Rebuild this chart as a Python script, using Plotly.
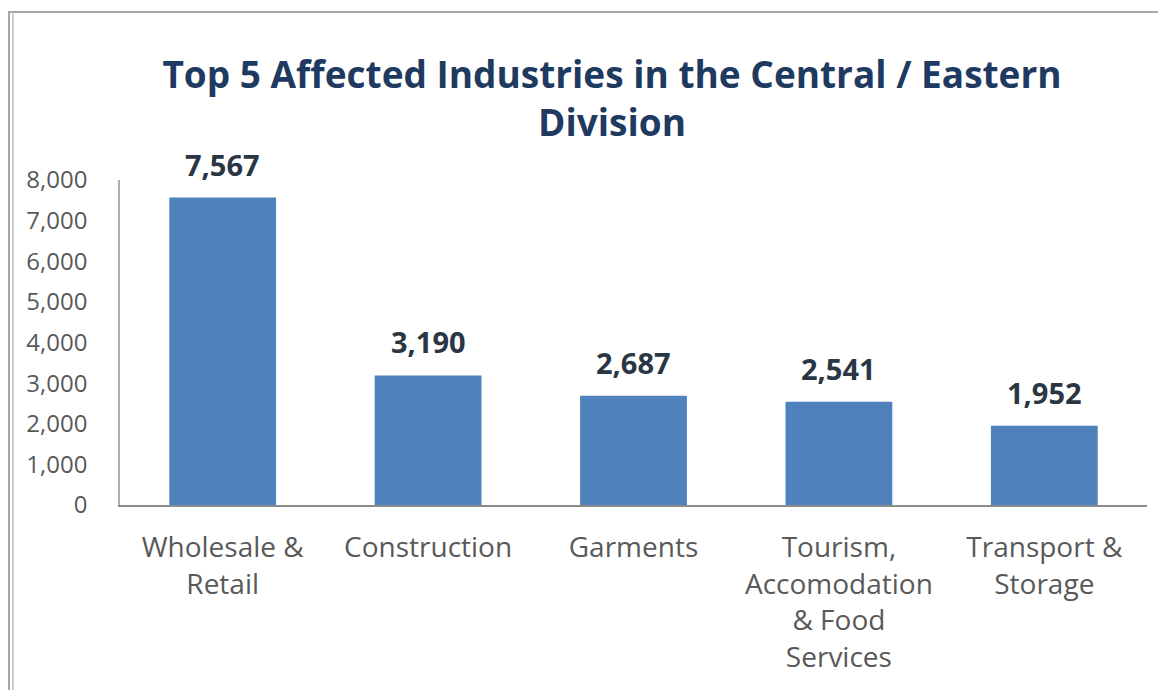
import plotly.graph_objects as go

# Top 5 affected industries, Central / Eastern Division
industries = [
    "Wholesale &<br>Retail",
    "Construction",
    "Garments",
    "Tourism,<br>Accomodation<br>& Food<br>Services",
    "Transport &<br>Storage",
]
affected = [7567, 3190, 2687, 2541, 1952]

y_ticks = [0, 1000, 2000, 3000, 4000, 5000, 6000, 7000, 8000]
y_tick_labels = ["0", "1,000", "2,000", "3,000", "4,000", "5,000", "6,000", "7,000", "8,000"]

bar_color = "#4F81BD"
gray_text = "#595959"
axis_gray = "#8c8c8c"
font_family = "Open Sans, Lato, sans-serif"

# page / plot geometry (px); the page body adds an 8px margin all round
off = 8
W, H = 1166 - 2 * off, 698 - 2 * off
ml, mt = 120 - off, 180 - off
pw, ph = 1027, 325
mr = W - ml - pw
mb = H - mt - ph


def px_x(x):
    return (x - off - ml) / pw


def px_y(y):
    return (H - mb - (y - off)) / ph


fig = go.Figure()

fig.add_trace(
    go.Bar(
        x=industries,
        y=affected,
        marker=dict(color=bar_color, line=dict(width=0)),
        hoverinfo="skip",
        showlegend=False,
    )
)

# value labels above bars
for name, val in zip(industries, affected):
    fig.add_annotation(
        x=name,
        y=val,
        text=f"{val:,}",
        showarrow=False,
        yanchor="bottom",
        yshift=12,
        font=dict(family=font_family, size=29, color="#2a3644", weight="bold"),
    )

# outer frame of the picture (top edge and double left edge)
fig.add_shape(type="line", xref="paper", yref="paper",
              x0=px_x(8), x1=px_x(1170), y0=px_y(12), y1=px_y(12),
              line=dict(color="#a6a6a6", width=2))
fig.add_shape(type="line", xref="paper", yref="paper",
              x0=px_x(9), x1=px_x(9), y0=px_y(12), y1=px_y(700),
              line=dict(color="#a6a6a6", width=2))
fig.add_shape(type="line", xref="paper", yref="paper",
              x0=px_x(13), x1=px_x(13), y0=px_y(12), y1=px_y(700),
              line=dict(color="#c0c0c0", width=1.5))

fig.update_layout(
    width=W,
    height=H,
    margin=dict(l=ml, r=mr, t=mt, b=mb, autoexpand=False),
    paper_bgcolor="white",
    plot_bgcolor="white",
    bargap=0.48,
    title=dict(
        text="Top 5 Affected Industries in the Central / Eastern<br>Division",
        x=(612 - off) / W,
        xanchor="center",
        y=1 - (88 - off) / H,
        yanchor="middle",
        font=dict(family=font_family, size=37, color="#1f3a60", weight="bold"),
    ),
    xaxis=dict(
        showline=True,
        linecolor=axis_gray,
        linewidth=1.5,
        ticks="",
        ticklabelstandoff=17,
        tickfont=dict(family=font_family, size=28, color=gray_text),
        showgrid=False,
        fixedrange=True,
    ),
    yaxis=dict(
        range=[0, 8000],
        tickvals=y_ticks,
        ticktext=y_tick_labels,
        showline=True,
        linecolor="#b0b0b0",
        linewidth=1.5,
        ticks="",
        ticklabelstandoff=26,
        showgrid=False,
        zeroline=False,
        tickfont=dict(family=font_family, size=24, color=gray_text),
        fixedrange=True,
    ),
)

fig.write_html("out.html")
